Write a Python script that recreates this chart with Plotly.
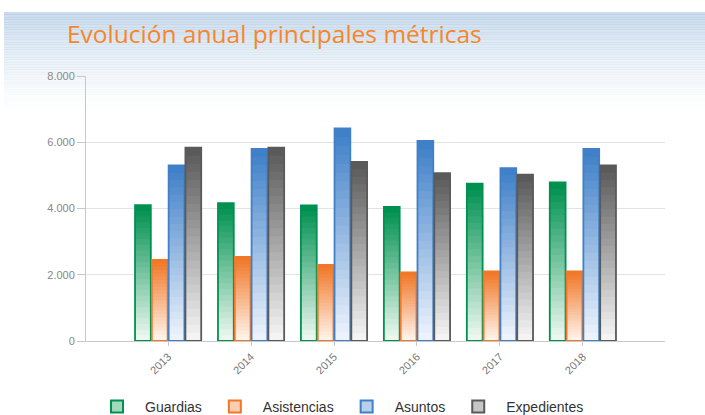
"""Evolución anual principales métricas - grouped bar chart."""

import plotly.graph_objects as go

YEARS = ["2013", "2014", "2015", "2016", "2017", "2018"]
GUARDIAS = [4100, 4160, 4090, 4050, 4750, 4790]
ASISTENCIAS = [2450, 2540, 2300, 2070, 2100, 2100]
ASUNTOS = [5300, 5800, 6420, 6040, 5220, 5800]
EXPEDIENTES = [5840, 5840, 5410, 5070, 5020, 5300]

SERIES = [
    ("Guardias", GUARDIAS, (0, 145, 80), (236, 247, 240)),
    ("Asistencias", ASISTENCIAS, (240, 120, 40), (255, 244, 236)),
    ("Asuntos", ASUNTOS, (64, 128, 200), (236, 243, 252)),
    ("Expedientes", EXPEDIENTES, (90, 90, 90), (244, 244, 244)),
]

W, H = 705, 415
M = {"l": 86, "r": 40, "t": 76, "b": 74}
SLICES = 24


def _mix(top, bottom, t):
    r, g, b = (round(bottom[i] + (top[i] - bottom[i]) * t) for i in range(3))
    return f"rgb({r},{g},{b})"


def _py(px):
    """Pixel row -> paper y."""
    return (H - M["b"] - px) / (H - M["t"] - M["b"])


def _px(px):
    return (px - M["l"]) / (W - M["l"] - M["r"])


fig = go.Figure()

for name, values, top, bottom in SERIES:
    # gradient fill: overlapping slices, each running from its base up to the bar top
    for k in range(SLICES):
        fig.add_trace(
            go.Bar(
                x=YEARS,
                y=[v * (SLICES - k) / SLICES for v in values],
                base=[v * k / SLICES for v in values],
                offsetgroup=name,
                marker={"color": _mix(top, bottom, k / (SLICES - 1)), "line": {"width": 0}},
                showlegend=False,
                hoverinfo="skip",
            )
        )
    # outline of the whole bar
    fig.add_trace(
        go.Bar(
            x=YEARS,
            y=values,
            name=name,
            offsetgroup=name,
            showlegend=False,
            marker={
                "color": "rgba(0,0,0,0)",
                "line": {"color": _mix(top, bottom, 1), "width": 1.8},
            },
        )
    )
    # legend entry only
    fig.add_trace(
        go.Bar(
            x=[YEARS[0]],
            y=[None],
            name=name,
            offsetgroup=name,
            hoverinfo="skip",
            marker={
                "color": _mix(top, bottom, 0.3),
                "line": {"color": _mix(top, bottom, 1), "width": 2},
            },
        )
    )

# soft blue header background
shapes = []
bands = 40
for i in range(bands):
    y0 = 12 + i * (100 / bands)
    y1 = y0 + 100 / bands + 0.6
    alpha = 0.45 * (1 - i / bands) ** 1.5
    shapes.append(
        {
            "type": "rect",
            "xref": "paper",
            "yref": "paper",
            "x0": _px(4),
            "x1": _px(W),
            "y0": _py(y1),
            "y1": _py(y0),
            "fillcolor": f"rgba(140,178,215,{alpha:.3f})",
            "line": {"width": 0},
            "layer": "below",
        }
    )

fig.update_layout(
    width=W,
    height=H,
    margin=M,
    paper_bgcolor="white",
    plot_bgcolor="rgba(0,0,0,0)",
    separators=",.",
    barmode="group",
    bargap=0.19,
    bargroupgap=0.06,
    shapes=shapes,
    font={"family": "Liberation Sans, Arial, sans-serif", "color": "#555"},
    title={
        "text": "Evolución anual principales métricas",
        "x": 67 / W,
        "xanchor": "left",
        "y": 1 - 34 / H,
        "yanchor": "middle",
        "pad": {"l": 0, "r": 0, "t": 0, "b": 0},
        "font": {"family": "Open Sans, Noto Sans, sans-serif", "size": 24.5, "color": "#f7862a"},
    },
    xaxis={
        "type": "category",
        "range": [-0.99, 5.99],
        "automargin": False,
        "showgrid": False,
        "showline": True,
        "linecolor": "#c8c8c8",
        "linewidth": 1,
        "ticks": "outside",
        "ticklen": 4,
        "tickcolor": "#c8c8c8",
        "tickangle": -45,
        "tickfont": {"size": 11, "color": "#777"},
    },
    yaxis={
        "range": [0, 8000],
        "dtick": 2000,
        "tickformat": ",d",
        "automargin": False,
        "showgrid": True,
        "gridcolor": "#e3e3e3",
        "gridwidth": 1,
        "zeroline": False,
        "showline": True,
        "linecolor": "#c8c8c8",
        "ticks": "outside",
        "ticklen": 8,
        "tickcolor": "#c8c8c8",
        "tickfont": {"size": 11, "color": "#888"},
    },
    legend={
        "orientation": "h",
        "x": 0.437,
        "xanchor": "center",
        "yref": "container",
        "y": 1 - 407 / H,
        "yanchor": "middle",
        "font": {"size": 14, "color": "#333"},
        "itemwidth": 46,
        "bgcolor": "rgba(0,0,0,0)",
    },
)

# the page body has a default 8px margin; remove it so the figure fills the window
fig.write_html(
    "out.html",
    config={"displayModeBar": False},
    post_script="document.body.style.margin='0';",
)
